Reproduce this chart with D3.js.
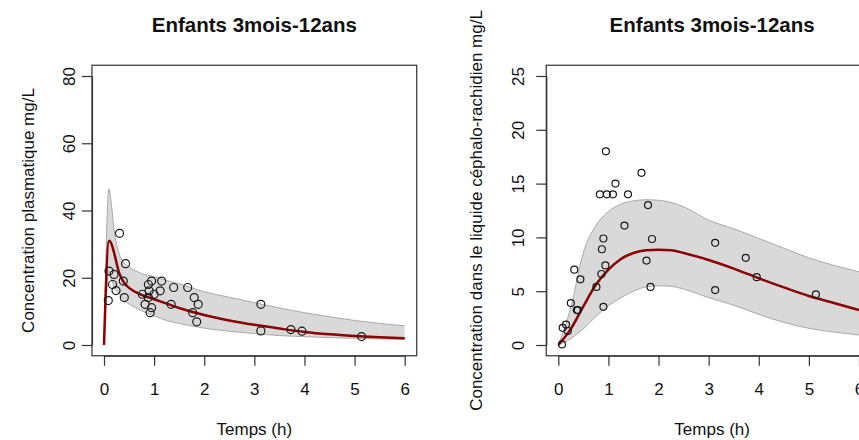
<!DOCTYPE html>
<html>
<head>
<meta charset="utf-8">
<script src="https://cdn.jsdelivr.net/npm/d3@7"></script>
<style>
  body { margin: 0; background: #fff; }
  text { font-family: "Liberation Sans", Arial, Helvetica, sans-serif; fill: #111; }
</style>
</head>
<body>
<svg id="chart" width="859" height="440"></svg>
<script>
// ---- plasma panel (left) ----
const plasmaTime = [0, 0.1, 0.15, 0.2, 0.3, 0.4, 0.5, 0.75, 1, 1.25, 1.5, 2, 2.5, 3, 3.5, 4, 4.5, 5, 5.5, 6];
const plasmaMedian = [0, 31.0, 30.0, 27.5, 21.5, 18.5, 17.0, 14.9, 13.6, 12.3, 11.0, 8.9, 7.3, 6.0, 4.9, 3.9, 3.2, 2.7, 2.3, 2.0];
const plasmaHigh = [0, 46.5, 41.5, 34.5, 27.3, 24.5, 23.2, 21.3, 20.3, 19.2, 18.2, 15.8, 14.2, 12.6, 11.0, 9.6, 8.4, 7.3, 6.4, 5.7];
const plasmaLow = [0, 22.0, 19.5, 17.5, 15.3, 13.3, 12.2, 10.2, 8.6, 7.3, 6.4, 5.0, 4.1, 3.4, 2.8, 2.5, 2.2, 2.0, 1.8, 1.7];

const plasmaObsTime = [0.086, 0.1, 0.2, 0.17, 0.24, 0.31, 0.43, 0.385, 0.405, 0.765, 0.82, 0.885, 0.95, 0.9, 0.885, 1.0,
  0.95, 0.92, 1.12, 1.15, 1.34, 1.39, 1.67, 1.8, 1.88, 1.77, 1.85, 3.13, 3.13, 3.73, 3.95, 5.14];
const plasmaObs = [13.2, 22.0, 21.0, 18.0, 16.2, 33.2, 24.2, 19.0, 14.1, 15.1, 12.1, 18.0, 19.0, 16.1, 14.1, 15.1,
  11.1, 9.6, 16.1, 19.0, 12.1, 17.1, 17.1, 14.1, 12.1, 9.6, 6.9, 12.1, 4.2, 4.6, 4.1, 2.5];

// ---- CSF panel (right) ----
const csfTime = [0, 0.25, 0.5, 0.75, 1, 1.25, 1.5, 1.75, 2, 2.25, 2.5, 3, 3.5, 4, 4.5, 5, 5.5, 6];
const csfMedian = [0, 1.5, 3.6, 5.6, 7.0, 8.0, 8.55, 8.8, 8.85, 8.8, 8.55, 7.9, 7.1, 6.2, 5.35, 4.55, 3.9, 3.25];
const csfHigh = [0, 3.5, 8.6, 11.1, 12.4, 13.1, 13.4, 13.5, 13.45, 13.25, 12.85, 11.6, 10.8, 9.9, 9.0, 8.1, 7.4, 6.8];
const csfLow = [0, 0.6, 1.5, 2.65, 3.65, 4.4, 5.0, 5.4, 5.5, 5.45, 5.2, 4.4, 3.7, 2.85, 2.1, 1.55, 1.2, 0.93];

const csfObsTime = [0.074, 0.087, 0.154, 0.19, 0.25, 0.32, 0.37, 0.39, 0.44, 0.76, 0.86, 0.87, 0.9, 0.94, 0.9, 0.95,
  0.83, 0.97, 1.09, 1.14, 1.39, 1.32, 1.66, 1.79, 1.87, 1.76, 1.84, 3.13, 3.13, 3.74, 3.96, 5.14];
const csfObs = [0.05, 1.6, 1.9, 1.3, 3.9, 7.0, 3.25, 3.25, 6.1, 5.4, 6.6, 8.9, 9.9, 7.4, 3.55, 18.0,
  14.0, 14.0, 14.0, 15.0, 14.0, 11.1, 16.0, 13.0, 9.85, 7.85, 5.4, 9.5, 5.1, 8.1, 6.3, 4.7];

const timeTicks = [0, 1, 2, 3, 4, 5, 6];
const plasmaTicks = [0, 20, 40, 60, 80];
const csfTicks = [0, 5, 10, 15, 20, 25];

const titleText = "Enfants 3mois-12ans";
const xLabel = "Temps (h)";

const SVGElement = d3.select("#chart");

const drawPanel = (p) => {
  const x = d3.scaleLinear().domain([0, 6]).range([p.x0, p.x0 + 300.7]);
  const y = d3.scaleLinear().domain([0, p.yMax]).range([345, 76]);
  const pad = p.yMax * 0.04;

  const left = x(-0.24), right = x(6.24), top = y(p.yMax + pad), bottom = y(-pad);

  const g = SVGElement.append("g").attr("class", "panel-" + p.id);

  g.append("clipPath")
    .attr("id", "clip-" + p.id)
    .append("rect")
    .attr("x", left)
    .attr("y", top)
    .attr("width", right - left)
    .attr("height", bottom - top);

  const plot = g.append("g").attr("clip-path", `url(#clip-${p.id})`);

  const band = p.time.map((t, i) => ({ t, lo: p.low[i], hi: p.high[i], med: p.median[i] }));

  plot.append("path")
    .datum(band)
    .attr("fill", "#d9d9d9")
    .attr("stroke", "none")
    .attr("d", d3.area()
      .x((d) => x(d.t))
      .y0((d) => y(d.lo))
      .y1((d) => y(d.hi))
      .curve(d3.curveMonotoneX));

  ["hi", "lo"].forEach((k) => {
    plot.append("path")
      .datum(band)
      .attr("fill", "none")
      .attr("stroke", "#a8a8a8")
      .attr("stroke-width", 1)
      .attr("d", d3.line().x((d) => x(d.t)).y((d) => y(d[k])).curve(d3.curveMonotoneX));
  });

  plot.append("path")
    .datum(band)
    .attr("fill", "none")
    .attr("stroke", "#8b0000")
    .attr("stroke-width", 2.5)
    .attr("d", d3.line().x((d) => x(d.t)).y((d) => y(d.med)).curve(d3.curveMonotoneX));

  plot.selectAll("circle.obs")
    .data(p.obsTime.map((t, i) => ({ t, c: p.obs[i] })))
    .enter()
    .append("circle")
    .attr("class", "obs")
    .attr("cx", (d) => x(d.t))
    .attr("cy", (d) => y(d.c))
    .attr("r", p.r)
    .attr("fill", "none")
    .attr("stroke", "#1a1a1a")
    .attr("stroke-width", 1.2);

  // box
  g.append("rect")
    .attr("x", left)
    .attr("y", top)
    .attr("width", right - left)
    .attr("height", bottom - top)
    .attr("fill", "none")
    .attr("stroke", "#333")
    .attr("stroke-width", 1.2);

  const xAxis = g.append("g")
    .attr("transform", `translate(0,${bottom})`)
    .call(d3.axisBottom(x).tickValues(timeTicks).tickSize(10).tickSizeOuter(0).tickPadding(17).tickFormat(d3.format("d")));

  const yAxis = g.append("g")
    .attr("transform", `translate(${left},0)`)
    .call(d3.axisLeft(y).tickValues(p.ticks).tickSize(10).tickSizeOuter(0).tickFormat(d3.format("d")));

  [xAxis, yAxis].forEach((a) => {
    a.selectAll("path.domain").attr("stroke", "#333").attr("stroke-width", 1.2);
    a.selectAll(".tick line").attr("stroke", "#333").attr("stroke-width", 1.2);
    a.selectAll(".tick text")
      .style("font-size", "17px")
      .style("fill", "#111")
      .attr("font-family", null);
  });

  yAxis.selectAll(".tick text")
    .attr("x", null)
    .attr("dy", null)
    .attr("text-anchor", "middle")
    .attr("transform", `translate(${-p.tickOff},0) rotate(-90)`);

  const cx = (left + right) / 2 + p.shift;

  g.append("text")
    .attr("x", cx)
    .attr("y", 31.5)
    .attr("text-anchor", "middle")
    .style("font-size", "20.5px")
    .style("font-weight", "bold")
    .text(titleText);

  g.append("text")
    .attr("x", cx)
    .attr("y", 435)
    .attr("text-anchor", "middle")
    .style("font-size", "17px")
    .text(xLabel);

  g.append("text")
    .attr("transform", `translate(${left - p.labelOff},${(top + bottom) / 2}) rotate(-90)`)
    .attr("text-anchor", "middle")
    .style("font-size", "17px")
    .text(p.yLabel);
};

drawPanel({
  id: "plasma", x0: 104, yMax: 80, ticks: plasmaTicks, r: 4,
  tickOff: 17, labelOff: 58, shift: 0,
  time: plasmaTime, median: plasmaMedian, high: plasmaHigh, low: plasmaLow,
  obsTime: plasmaObsTime, obs: plasmaObs,
  yLabel: "Concentration plasmatique mg/L",
});

drawPanel({
  id: "csf", x0: 558.3, yMax: 25, ticks: csfTicks, r: 3.5,
  tickOff: 22, labelOff: 64, shift: 3.5,
  time: csfTime, median: csfMedian, high: csfHigh, low: csfLow,
  obsTime: csfObsTime, obs: csfObs,
  yLabel: "Concentration dans le liquide céphalo-rachidien mg/L",
});
</script>
</body>
</html>
